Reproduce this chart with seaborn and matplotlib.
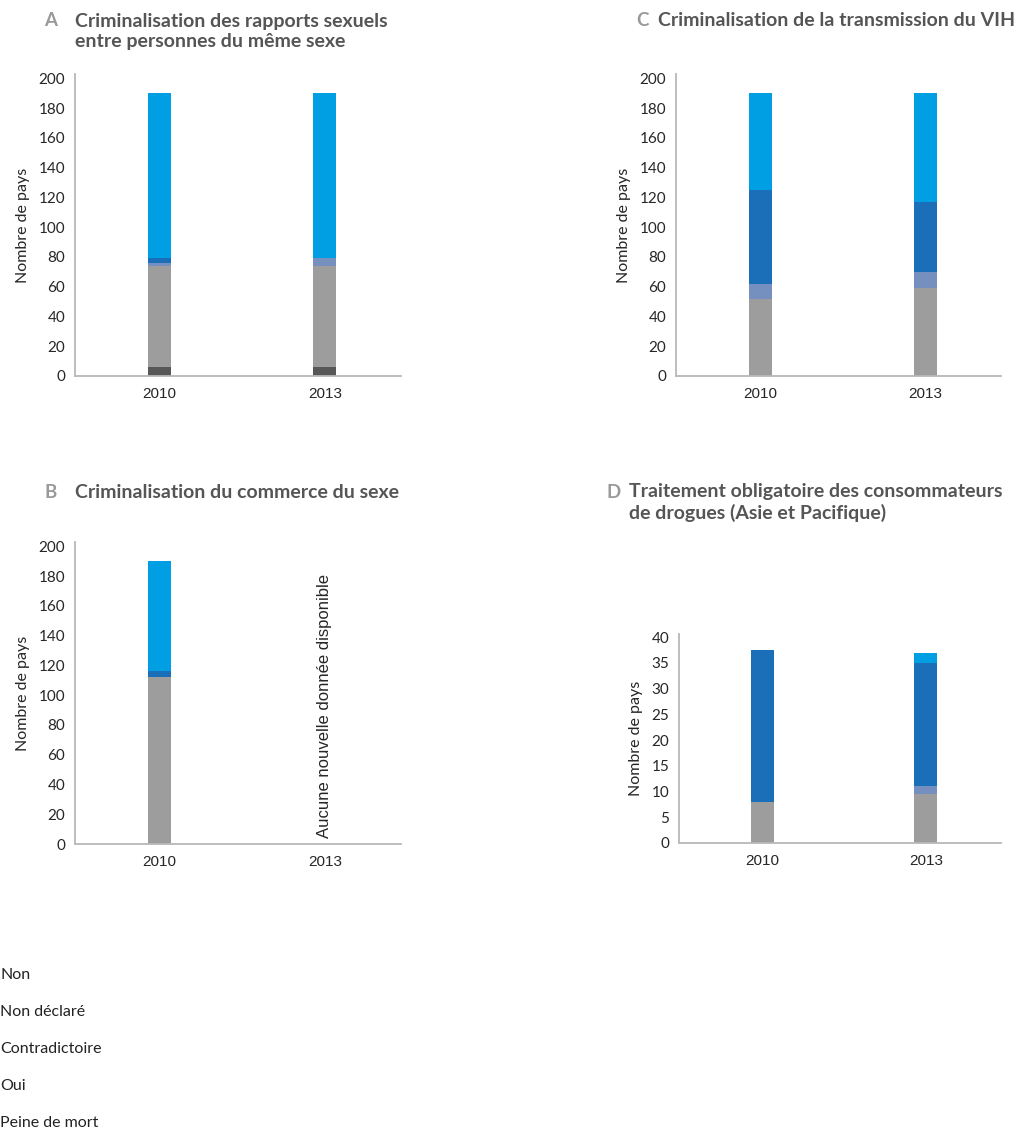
import pandas as pd
import matplotlib.pyplot as plt
import seaborn as sns

sns.set_style('white')
plt.rcParams['font.family'] = ['Liberation Sans', 'DejaVu Sans']

years = ['2010', '2013']
layers = ['Peine de mort', 'Oui', 'Contradictoire', 'Non déclaré', 'Non']
colors = ['#575757', '#9d9d9d', '#7590be', '#1b6fb8', '#009fe3']

# A - rapports sexuels entre personnes du meme sexe
peine_A = [6, 6]
oui_A = [68, 68]
contr_A = [2, 5]
nondecl_A = [3, 0]
non_A = [111, 111]

# B - commerce du sexe (pas de donnees 2013)
peine_B = [0, 0]
oui_B = [112, 0]
contr_B = [0, 0]
nondecl_B = [4, 0]
non_B = [74, 0]

# C - transmission du VIH
peine_C = [0, 0]
oui_C = [52, 59]
contr_C = [10, 11]
nondecl_C = [63, 47]
non_C = [65, 73]

# D - traitement obligatoire (Asie et Pacifique)
peine_D = [0, 0]
oui_D = [8, 9.5]
contr_D = [0, 1.5]
nondecl_D = [29.5, 24]
non_D = [0, 2]

W, H = 1036, 1130
fig = plt.figure(figsize=(W / 100, H / 100), dpi=100)
tfont = ['Lato', 'DejaVu Sans']


def make_ax(left, top, right, bottom):
    return fig.add_axes([left / W, 1 - bottom / H, (right - left) / W, (bottom - top) / H])


def draw_panel(ax, series, ymax, yticks):
    df = pd.DataFrame(dict(zip(layers, series)), index=years)
    cum = df.cumsum(axis=1)
    # draw from tallest cumulative to shortest so stacks show
    for name, col in reversed(list(zip(layers, colors))):
        d = pd.DataFrame({'year': years, 'val': cum[name].values})
        sns.barplot(data=d, x='year', y='val', color=col, width=0.14,
                    saturation=1, linewidth=0, errorbar=None, ax=ax)
    ax.set_xlim(-0.51, 1.46)
    ax.set_ylim(0, ymax)
    ax.set_yticks(yticks)
    ax.set_xlabel('')
    ax.set_ylabel('Nombre de pays', fontsize=11.5, family=tfont, labelpad=6)
    sns.despine(ax=ax)
    for s in ['left', 'bottom']:
        ax.spines[s].set_color('#b8b8b8')
        ax.spines[s].set_linewidth(1.3)
    ax.tick_params(axis='x', length=0, labelsize=11, pad=8)
    ax.tick_params(axis='y', length=0, labelsize=11, pad=7)
    for lab in ax.get_yticklabels():
        lab.set_family(tfont)


axA = make_ax(75, 74, 401, 376)
draw_panel(axA, [peine_A, oui_A, contr_A, nondecl_A, non_A], 203, range(0, 201, 20))

axC = make_ax(676, 74, 1001, 376)
draw_panel(axC, [peine_C, oui_C, contr_C, nondecl_C, non_C], 203, range(0, 201, 20))

axB = make_ax(75, 542, 401, 844)
draw_panel(axB, [peine_B, oui_B, contr_B, nondecl_B, non_B], 203, range(0, 201, 20))
axB.text(1, 4, 'Aucune nouvelle donnée disponible', rotation=90, ha='center',
         va='bottom', fontsize=12)

axD = make_ax(679, 634, 1001, 843)
draw_panel(axD, [peine_D, oui_D, contr_D, nondecl_D, non_D], 40.6, range(0, 41, 5))


# titres
def title(x_letter, x_text, y, letter, lines):
    fig.text(x_letter / W, 1 - y / H, letter, color='#9a9a9a', fontsize=13.5,
             fontweight='bold', family=tfont, va='center')
    for i, ln in enumerate(lines):
        fig.text(x_text / W, 1 - (y + i * 21) / H, ln, color='#555555', fontsize=14,
                 fontweight='bold', family=tfont, va='center')

title(44, 75, 21, 'A', ['Criminalisation des rapports sexuels', 'entre personnes du même sexe'])
title(636, 658, 21, 'C', ['Criminalisation de la transmission du VIH'])
title(44, 75, 492, 'B', ['Criminalisation du commerce du sexe'])
title(607, 629, 492, 'D', ['Traitement obligatoire des consommateurs', 'de drogues (Asie et Pacifique)'])

# legende (texte seulement)
for i, name in enumerate(reversed(layers)):
    fig.text(0, 1 - (975 + i * 37) / H, name, fontsize=11.5, family=tfont,
             color='#222222', va='center')

fig.savefig('out.png', dpi=100, facecolor='white')
